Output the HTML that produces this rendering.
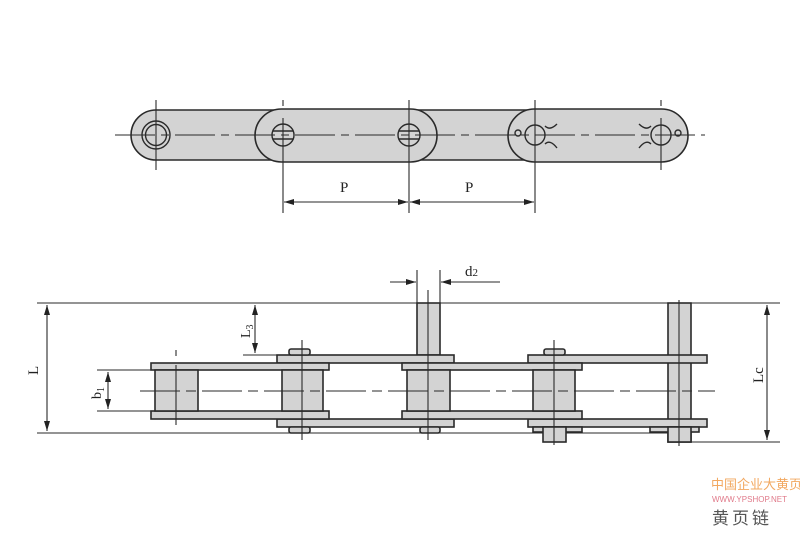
<!DOCTYPE html>
<html><head><meta charset="utf-8"><style>
html,body{margin:0;padding:0;background:#fff;}
svg{display:block;}
text{font-family:"Liberation Serif",serif;fill:#222;}
</style></head><body>
<svg width="800" height="533" viewBox="0 0 800 533" xmlns="http://www.w3.org/2000/svg">
<defs>
<marker id="a" viewBox="0 0 10 6" refX="10" refY="3" markerWidth="10" markerHeight="6" orient="auto-start-reverse" markerUnits="userSpaceOnUse"><path d="M0,0 L10,3 L0,6 z" fill="#222"/></marker>
</defs>
<g stroke="#2a2a2a" stroke-width="1.6" fill="#d3d3d3">
<path d="M156,110 H283 V160 H156 A25,25 0 0 1 156,110 Z"/>
<path d="M409,110 H535 V160 H409 Z"/>
<rect x="255" y="109" width="182" height="53" rx="26.5"/>
<rect x="508" y="109" width="180" height="53" rx="26.5"/>
</g>
<g stroke="#2a2a2a" stroke-width="1.4" fill="none">
<circle cx="156" cy="135" r="14"/><circle cx="156" cy="135" r="10.5"/>
<circle cx="283" cy="135" r="11"/><line x1="273" y1="131" x2="293" y2="131"/><line x1="273" y1="139" x2="293" y2="139"/>
<circle cx="409" cy="135" r="11"/><line x1="399" y1="131" x2="419" y2="131"/><line x1="399" y1="139" x2="419" y2="139"/>
<circle cx="535" cy="135" r="10"/><circle cx="518" cy="133" r="3"/>
<path d="M545,126 Q550,131 557,124 M545,144 Q550,139 557,148"/>
<circle cx="661" cy="135" r="10"/><circle cx="678" cy="133" r="3"/>
<path d="M651,126 Q646,131 639,124 M651,144 Q646,139 639,148"/>
</g>
<g stroke="#2a2a2a" stroke-width="1.1">
<line x1="115" y1="135" x2="705" y2="135" stroke-dasharray="40,6,8,6"/>
<line x1="156" y1="100" x2="156" y2="170"/>
<line x1="283" y1="100" x2="283" y2="106"/><line x1="283" y1="118" x2="283" y2="213"/>
<line x1="409" y1="100" x2="409" y2="213"/>
<line x1="535" y1="100" x2="535" y2="213"/>
<line x1="661" y1="100" x2="661" y2="106"/><line x1="661" y1="118" x2="661" y2="170"/>
<line x1="284" y1="202" x2="408" y2="202" marker-start="url(#a)" marker-end="url(#a)"/>
<line x1="410" y1="202" x2="534" y2="202" marker-start="url(#a)" marker-end="url(#a)"/>
</g>
<text x="340" y="192" font-size="15">P</text>
<text x="465" y="192" font-size="15">P</text>

<g stroke="#2a2a2a" stroke-width="1.1" fill="none">
<line x1="37" y1="303" x2="690" y2="303"/>
<line x1="37" y1="433" x2="668" y2="433"/>
<line x1="47" y1="305" x2="47" y2="431" marker-start="url(#a)" marker-end="url(#a)"/>
<line x1="243" y1="355" x2="278" y2="355"/>
<line x1="255" y1="305" x2="255" y2="353" marker-start="url(#a)" marker-end="url(#a)"/>
<line x1="97" y1="370" x2="155" y2="370"/><line x1="97" y1="411" x2="155" y2="411"/>
<line x1="108" y1="372" x2="108" y2="409" marker-start="url(#a)" marker-end="url(#a)"/>
<line x1="417" y1="270" x2="417" y2="303"/><line x1="440" y1="270" x2="440" y2="303"/>
<line x1="390" y1="282" x2="416" y2="282" marker-end="url(#a)"/>
<line x1="500" y1="282" x2="441" y2="282" marker-end="url(#a)"/>
<line x1="691" y1="303" x2="780" y2="303"/><line x1="691" y1="442" x2="780" y2="442"/>
<line x1="767" y1="305" x2="767" y2="440" marker-start="url(#a)" marker-end="url(#a)"/>
</g>
<g stroke="#2a2a2a" stroke-width="1.6" fill="#d3d3d3">
<rect x="417" y="303" width="23" height="52"/>
<rect x="668" y="303" width="23" height="139"/>
<rect x="277" y="355" width="177" height="8"/>
<rect x="277" y="419" width="177" height="8"/>
<rect x="528" y="355" width="179" height="8"/>
<rect x="528" y="419" width="179" height="8"/>
<rect x="151" y="363" width="178" height="7"/>
<rect x="151" y="411" width="178" height="8"/>
<rect x="402" y="363" width="180" height="7"/>
<rect x="402" y="411" width="180" height="8"/>
<rect x="155" y="370" width="43" height="41"/>
<rect x="282" y="370" width="41" height="41"/>
<rect x="407" y="370" width="43" height="41"/>
<rect x="533" y="370" width="42" height="41"/>
<rect x="289" y="349" width="21" height="6" rx="2"/>
<rect x="289" y="427" width="21" height="6" rx="2"/>
<rect x="420" y="427" width="20" height="6" rx="2"/>
<rect x="544" y="349" width="21" height="6" rx="2"/>
<rect x="533" y="427" width="49" height="5"/>
<rect x="543" y="427" width="23" height="15"/>
<rect x="650" y="427" width="49" height="5"/>
<rect x="668" y="427" width="23" height="15"/>
</g>
<g stroke="#2a2a2a" stroke-width="1.1">
<line x1="140" y1="391" x2="715" y2="391" stroke-dasharray="40,6,10,6"/>
<line x1="176" y1="350" x2="176" y2="356"/><line x1="176" y1="365" x2="176" y2="425"/>
<line x1="302" y1="340" x2="302" y2="440"/>
<line x1="428" y1="290" x2="428" y2="440"/>
<line x1="554" y1="340" x2="554" y2="445"/>
<line x1="679" y1="300" x2="679" y2="446"/>
</g>
<text x="27" y="374" font-size="15" transform="rotate(-90 33 369)">L</text>
<text x="232" y="340" font-size="14" transform="rotate(-90 240 330)">L<tspan font-size="10" dy="3">3</tspan></text>
<text x="88" y="396" font-size="14" transform="rotate(-90 96 391)">b<tspan font-size="10" dy="3">1</tspan></text>
<text x="465" y="276" font-size="15">d<tspan font-size="11">2</tspan></text>
<text x="750" y="380" font-size="15" transform="rotate(-90 758 375)">Lc</text>

<text x="711" y="489" font-size="13" style="font-family:'Noto Sans CJK SC',sans-serif;fill:#f2a860">中国企业大黄页</text>
<text x="712" y="502" font-size="8" style="font-family:'Liberation Sans',sans-serif;fill:#e07a8a">WWW.YPSHOP.NET</text>
<text x="712" y="524" font-size="17" letter-spacing="3" style="font-family:'Noto Sans CJK SC',sans-serif;fill:#555">黄页链</text>
</svg>
</body></html>
